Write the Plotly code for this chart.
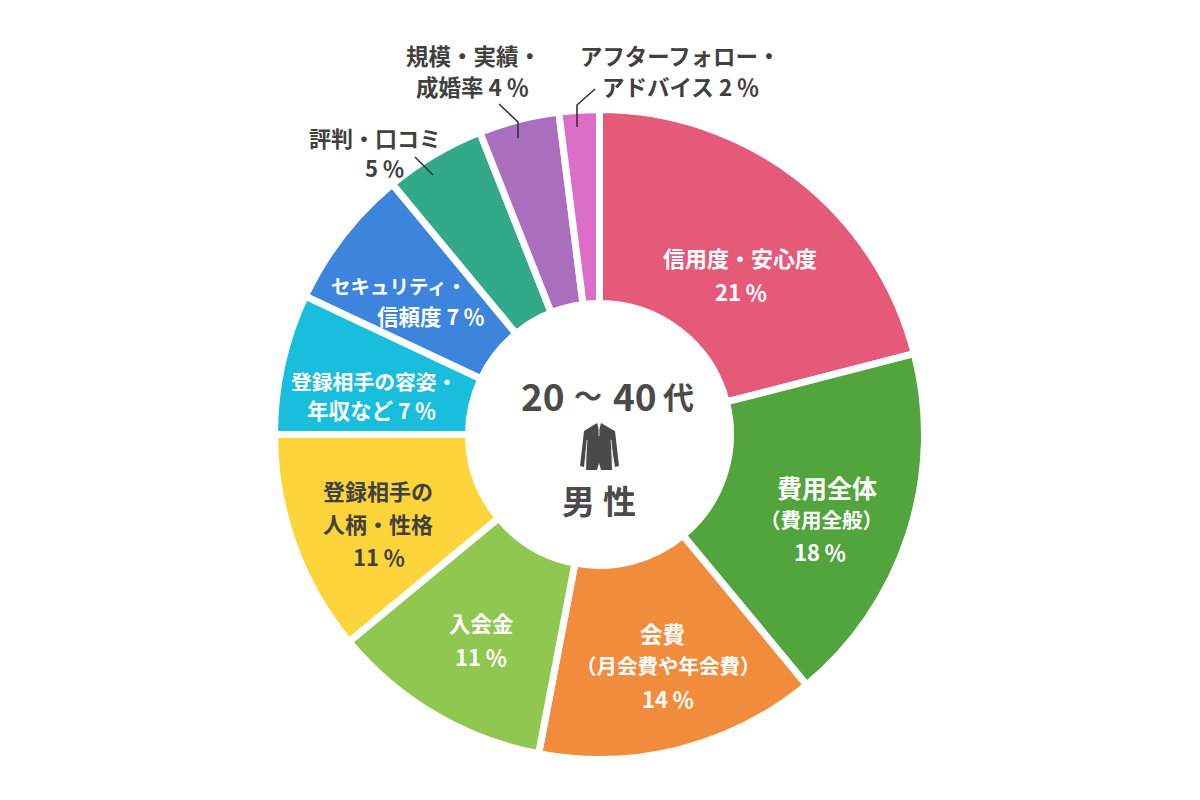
import plotly.graph_objects as go

categories = ["信用度・安心度", "費用全体(費用全般)", "会費(月会費や年会費)", "入会金", "登録相手の人柄・性格",
              "登録相手の容姿・年収など", "セキュリティ・信頼度", "評判・口コミ", "規模・実績・成婚率", "アフターフォロー・アドバイス"]
values = [21, 18, 14, 11, 11, 7, 7, 5, 4, 2]
colors = ["#E65A79", "#52A43C", "#F08C3C", "#90C750", "#FDD53A",
          "#19BEDC", "#3C84DC", "#32AA8A", "#AA6EBE", "#DC6EC8"]

TS = "\u2009"
WHITE_LABELS = [
    ("信用度・安心度", 740, 259, 22), (f"21{TS}％", 741, 293, 22),
    ("費用全体", 827, 489, 25), ("（費用全般）", 821, 521, 20.5), (f"18{TS}％", 820, 553, 22),
    ("会費", 663, 635, 22.5), ("（月会費や年会費）", 668, 667, 20.5), (f"14{TS}％", 668, 700, 22),
    ("入会金", 481, 624, 21.5), (f"11{TS}％", 481, 658, 22),
    ("登録相手の容姿・", 374, 383, 20.8), (f"年収など 7{TS}％", 371, 412, 21.5),
    ("セキュリティ・", 398, 288, 19.5), (f"信頼度 7{TS}％", 431, 317, 21.5),
]
DARK_LABELS = [
    ("登録相手の", 378, 492, 22), ("人柄・性格", 378, 525, 22), (f"11{TS}％", 379, 558, 22),
    ("評判・口コミ", 375, 139, 22), (f"5{TS}％", 384, 169, 22),
    ("規模・実績・", 473, 57, 22.5), (f"成婚率 4{TS}％", 472, 88, 22.5),
    ("アフターフォロー・", 680, 57, 22.4), (f"アドバイス 2{TS}％", 680, 88, 22.5),
]
CENTER_LABELS = [("20", 543, 397, 37), ("～", 588, 397, 28), ("40", 635, 397, 37), ("代", 678, 397, 31),
                 ("男", 578, 502, 33), ("性", 619, 502, 33)]
LEADERS = [
    [(415, 157), (433, 175)],
    [(499, 104), (518, 122), (518, 138)],
    [(595, 89), (577, 105), (577, 127)],
]
SUIT = [(592, 426), (597, 423), (599, 430), (601, 423), (606, 426), (615, 431), (619, 466), (615, 467),
        (611, 442), (612, 470), (601, 470), (599, 463), (597, 470), (586, 470), (587, 442), (584, 467),
        (580, 466), (584, 431)]
SUIT_DETAILS = [
    [(587, 440), (585, 462)],
    [(611, 440), (613, 462)],
    [(599, 426), (599, 436)],
]

W, H = 1200, 800
PAGE_MARGIN = 8
TEXT_SHIFT = -2
CX, CY, R = 599.5, 434.5, 325
FONT = "Noto Sans CJK JP"


def px(x):
    return (x - PAGE_MARGIN) / W


def py(y):
    return 1 - (y - PAGE_MARGIN) / H


fig = go.Figure(go.Pie(
    labels=categories, values=values, sort=False, direction="clockwise", rotation=0, hole=0.403,
    marker=dict(colors=colors, line=dict(color="white", width=7)),
    textinfo="none", hoverinfo="label+percent", showlegend=False,
    domain=dict(x=[px(CX - R), px(CX + R)], y=[py(CY + R), py(CY - R)]),
))

annotations = []
for text, x, y, size in WHITE_LABELS:
    annotations.append(dict(text=f"<b>{text}</b>", x=px(x), y=py(y + TEXT_SHIFT), font=dict(size=size, color="white", family=FONT)))
for text, x, y, size in DARK_LABELS:
    annotations.append(dict(text=f"<b>{text}</b>", x=px(x), y=py(y + TEXT_SHIFT), font=dict(size=size, color="#404040", family=FONT)))
for text, x, y, size in CENTER_LABELS:
    annotations.append(dict(text=f"<b>{text}</b>", x=px(x), y=py(y + TEXT_SHIFT), font=dict(size=size, color="#4A4A4A", family=FONT)))
for a in annotations:
    a.update(xref="paper", yref="paper", xanchor="center", yanchor="middle", showarrow=False)

shapes = []
for line in LEADERS:
    path = "M " + " L ".join(f"{px(x)},{py(y)}" for x, y in line)
    shapes.append(dict(type="path", path=path, xref="paper", yref="paper", line=dict(color="#333333", width=1.6)))
suit_path = "M " + " L ".join(f"{px(x)},{py(y)}" for x, y in SUIT) + " Z"
shapes.append(dict(type="path", path=suit_path, xref="paper", yref="paper", fillcolor="#4A4A4A", line=dict(width=0)))
for line in SUIT_DETAILS:
    path = "M " + " L ".join(f"{px(x)},{py(y)}" for x, y in line)
    shapes.append(dict(type="path", path=path, xref="paper", yref="paper", line=dict(color="#DDDDDD", width=1)))

fig.update_layout(
    width=W, height=H, margin=dict(l=0, r=0, t=0, b=0), paper_bgcolor="white", plot_bgcolor="white",
    annotations=annotations, shapes=shapes,
)
fig.write_html("out.html")
